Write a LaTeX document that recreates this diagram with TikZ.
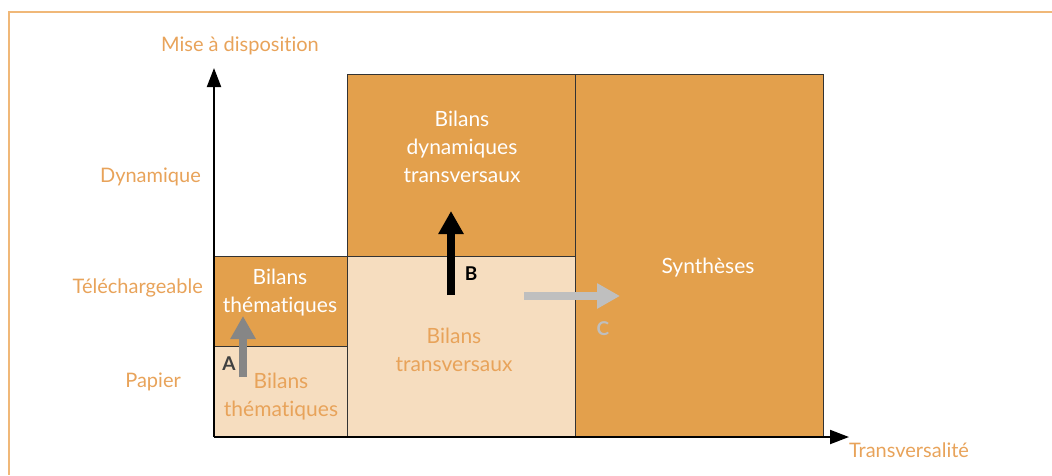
\documentclass[tikz,border=0pt]{standalone}
\usepackage{fontspec}
\setmainfont{Lato}[Ligatures=NoCommon]
\usetikzlibrary{arrows.meta}
\definecolor{dorange}{HTML}{E3A04C}
\definecolor{lorange}{HTML}{F6DDBF}
\definecolor{torange}{HTML}{E8A35A}
\definecolor{frameor}{HTML}{F0B878}
\definecolor{edgec}{HTML}{333333}
\tikzset{
  cell/.style={rectangle, draw=edgec, line width=1.3pt, anchor=north west, inner sep=0pt},
  darkcell/.style={cell, fill=dorange},
  lightcell/.style={cell, fill=lorange},
  wtext/.style={text=white, font=\fontsize{21}{28}\selectfont, align=center, inner sep=0pt},
  otext/.style={text=torange, font=\fontsize{21}{28}\selectfont, align=center, inner sep=0pt},
  axlabel/.style={text=torange, font=\fontsize{20}{24}\selectfont, inner sep=0pt},
  axis/.style={line width=2pt, -{Triangle[width=14pt,length=19pt]}},
  bigarrow/.style={line width=8.5pt, -{Triangle[width=24pt,length=23pt]}},
  letter/.style={font=\bfseries\fontsize{19}{20}\selectfont, inner sep=0pt}
}
\begin{document}
\begin{tikzpicture}[x=1pt, y=-1pt]
\useasboundingbox (0,0) rectangle (1052,475);
% frame
\draw[frameor, line width=2pt] (9,475) -- (9,12) -- (1052,12);
% cells
\node[lightcell, minimum width=133pt, minimum height=91pt] (pap) at (214,346) {};
\node[darkcell, minimum width=133pt, minimum height=90pt] (tel) at (214,256) {};
\node[lightcell, minimum width=228pt, minimum height=181pt] (trans) at (347,256) {};
\node[darkcell, minimum width=228pt, minimum height=182pt] (dyn) at (347,74) {};
\node[darkcell, minimum width=248pt, minimum height=363pt] (syn) at (575,74) {};
% texts
\node[otext] (tpap) at (281,397) {Bilans\\thématiques};
\node[wtext] (ttel) at (280,293) {Bilans\\thématiques};
\node[otext] (ttrans) at (454,350) {Bilans\\transversaux};
\node[wtext] (tdyn) at (462,147) {Bilans\\dynamiques\\transversaux};
\node[wtext] (tsyn) at (708,268) {Synthèses};
% axes
\coordinate (O) at (214,437);
\coordinate (ytip) at (214,68);
\coordinate (xtip) at (849,437);
\draw[axis] (O) -- (ytip);
\draw[axis] (O) -- (xtip);
\node[axlabel] (ly) at (240,46) {Mise à disposition};
\node[axlabel] (lx) at (909,450) {Transversalité};
\node[axlabel, anchor=east] (ldyn) at (201,177) {Dynamique};
\node[axlabel, anchor=east] (ltel) at (203,288) {Téléchargeable};
\node[axlabel, anchor=east] (lpap) at (181,382) {Papier};
% arrows
\coordinate (a0) at (243,377);
\coordinate (a1) at (243,316);
\draw[bigarrow, color=gray!95] (a0) -- (a1);
\node[letter, text=black!75] (la) at (229,364) {A};
\coordinate (b0) at (451,295);
\coordinate (b1) at (451,211);
\draw[bigarrow, color=black] (b0) -- (b1);
\node[letter, text=black] (lb) at (471,274) {B};
\coordinate (c0) at (524,296);
\coordinate (c1) at (620,296);
\draw[bigarrow, color=black!25] (c0) -- (c1);
\node[letter, text=black!25] (lc) at (603,329) {C};
\end{tikzpicture}
\end{document}
